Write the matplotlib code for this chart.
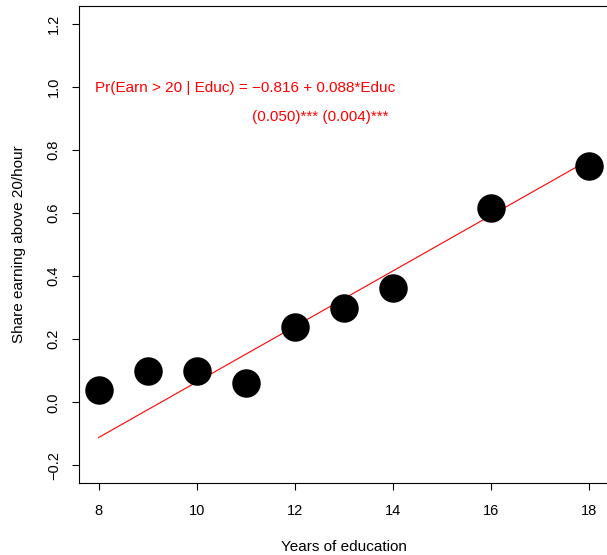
import numpy as np
import matplotlib.pyplot as plt

plt.rcParams['font.family'] = ['Liberation Sans', 'DejaVu Sans']

# share earning above 20/hour by years of education
educ = [8, 9, 10, 11, 12, 13, 14, 16, 18]
share = [0.038, 0.098, 0.098, 0.060, 0.238, 0.298, 0.362, 0.616, 0.749]

intercept = -0.816
slope = 0.088

x_ticks = [8, 10, 12, 14, 16, 18]
y_ticks = [-0.2, 0.0, 0.2, 0.4, 0.6, 0.8, 1.0, 1.2]

fig = plt.figure(figsize=(6.07, 5.55), dpi=100)
ax = fig.add_axes([0.130, 0.1297, 0.8726, 0.8595])

ax.plot(educ, share, 'o', color='black', markersize=19.5, zorder=3)

line_x = np.array([min(educ), max(educ)])
ax.plot(line_x, intercept + slope * line_x, '-', color='red', lw=0.8, zorder=2)

ax.text(7.92, 0.997, 'Pr(Earn > 20 | Educ) = \u22120.816 + 0.088*Educ',
        color='red', fontsize=11, ha='left', va='center')
ax.text(11.12, 0.905, '(0.050)*** (0.004)***',
        color='red', fontsize=11, ha='left', va='center')

ax.set_xlim(7.6, 18.4)
ax.set_ylim(-0.256, 1.256)
ax.set_xticks(x_ticks)
ax.set_xticklabels([str(t) for t in x_ticks])
ax.set_yticks(y_ticks)
ax.set_yticklabels(['%.1f' % t if t >= 0 else '\u2212%.1f' % abs(t) for t in y_ticks],
                   rotation=90, va='center')
ax.tick_params(labelsize=10.5, length=5, width=0.8)
ax.tick_params(axis='x', pad=10)
ax.tick_params(axis='y', pad=8)

ax.set_xlabel('Years of education', fontsize=11, labelpad=16)
ax.set_ylabel('Share earning above 20/hour', fontsize=11, labelpad=15)

for s in ax.spines.values():
    s.set_linewidth(0.8)

fig.savefig('out.png', dpi=100)
